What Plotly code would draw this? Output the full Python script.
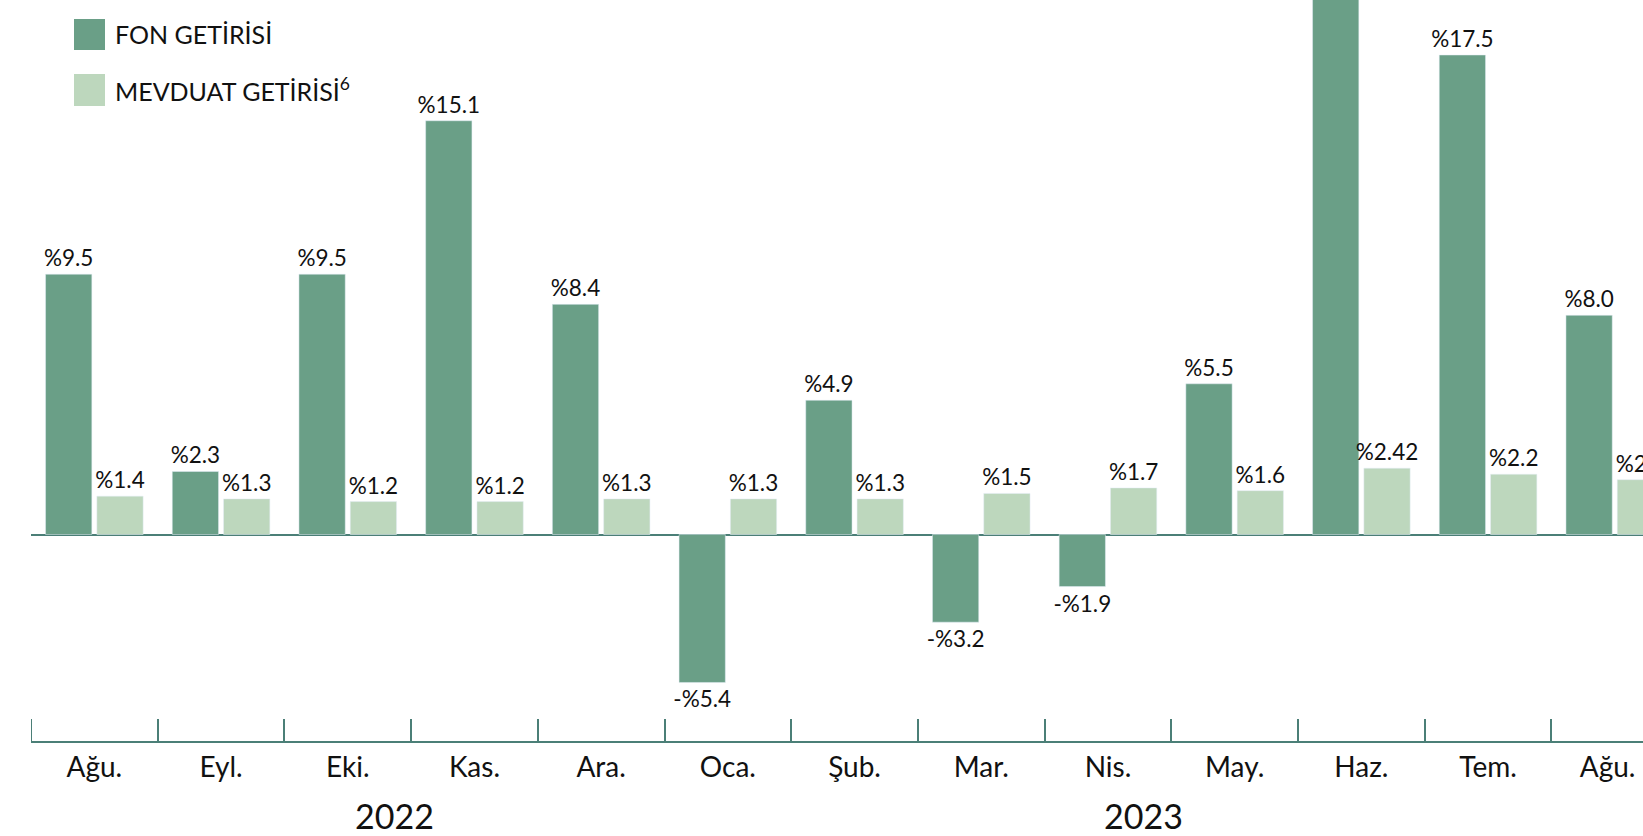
import plotly.graph_objects as go

months = ["Ağu.", "Eyl.", "Eki.", "Kas.", "Ara.", "Oca.", "Şub.", "Mar.", "Nis.",
          "May.", "Haz.", "Tem.", "Ağu.\u00a0\u00a0"]
fon = [9.5, 2.3, 9.5, 15.1, 8.4, -5.4, 4.9, -3.2, -1.9, 5.5, 22.0, 17.5, 8.0]
mevduat = [1.4, 1.3, 1.2, 1.2, 1.3, 1.3, 1.3, 1.5, 1.7, 1.6, 2.42, 2.2, 2.0]
series_names = ["FON GETİRİSİ", "MEVDUAT GETİRİSİ<sup>6</sup>"]
years = ["2022", "2023"]
year_pos = [2.37, 8.28]

FON_C = "#6a9f87"
MEV_C = "#bdd7bd"
AXIS_C = "#4b7f77"
FONT = "Lato"


def lab(v):
    return ("-" if v < 0 else "") + "%" + str(abs(v))


W, H = 1643, 836
ML, MB = 31, 95
plot_w = W - ML
plot_h = H - MB
zero_px = 534.5
px_per_unit = 27.4
ymax = zero_px / px_per_unit
ymin = -(plot_h - zero_px) / px_per_unit
cat_w = 126.7
xmin = -0.5
xmax = xmin + plot_w / cat_w

fig = go.Figure()
fig.add_trace(go.Bar(x=months, y=fon, marker_color=FON_C, text=[lab(v) for v in fon],
                     textposition="outside", constraintext="none", cliponaxis=True,
                     textfont=dict(family=FONT, size=22.5, color="#111"), showlegend=False))
fig.add_trace(go.Bar(x=months, y=mevduat, marker_color=MEV_C, text=[lab(v) for v in mevduat],
                     textposition="outside", constraintext="none", cliponaxis=True,
                     textfont=dict(family=FONT, size=22.5, color="#111"), showlegend=False))

fig.update_layout(
    width=W, height=H,
    margin=dict(l=ML, r=0, t=0, b=MB, pad=0, autoexpand=False),
    plot_bgcolor="white", paper_bgcolor="white",
    barmode="group", bargap=0.19, bargroupgap=0.098,
    font=dict(family=FONT, color="#111"),
    showlegend=False,
)
fig.update_xaxes(type="category", range=[xmin, xmax], showline=True, linecolor=AXIS_C,
                 linewidth=2, ticks="inside", ticklen=22, tickwidth=2, tickcolor=AXIS_C,
                 tickson="boundaries", showgrid=False, automargin=False,
                 tickfont=dict(family=FONT, size=28, color="#111"))
fig.update_yaxes(range=[ymin, ymax], showgrid=False, showticklabels=False, zeroline=True,
                 zerolinecolor=AXIS_C, zerolinewidth=2, showline=False, automargin=False)

# first boundary tick at the left edge (plotly does not draw it at the plot edge)
fig.add_shape(type="line", xref="x", yref="paper", x0=-0.5, x1=-0.5, y0=0, y1=22 / plot_h,
              line=dict(color=AXIS_C, width=2), layer="above")

for yr, xp in zip(years, year_pos):
    fig.add_annotation(x=xp, xref="x", y=0, yref="paper", yshift=-74, text=yr,
                       showarrow=False, yanchor="middle", xanchor="center",
                       font=dict(family=FONT, size=34, color="#111"))


def px_x(p):
    return (p - ML) / plot_w


def px_y(p):
    return (plot_h - p) / plot_h


leg = [(19, 50, FON_C), (74, 106, MEV_C)]
for (t, b, c), name in zip(leg, series_names):
    fig.add_shape(type="rect", xref="paper", yref="paper", x0=px_x(74), x1=px_x(105),
                  y0=px_y(b), y1=px_y(t), fillcolor=c, line_width=0)
    fig.add_annotation(xref="paper", yref="paper", x=px_x(113), y=px_y((t + b) / 2 - 1),
                       text=name, showarrow=False, xanchor="left", yanchor="middle",
                       font=dict(family=FONT, size=25, color="#111"))

fig.write_html("out.html", config={"displayModeBar": False},
               post_script="document.body.style.margin='0';")
